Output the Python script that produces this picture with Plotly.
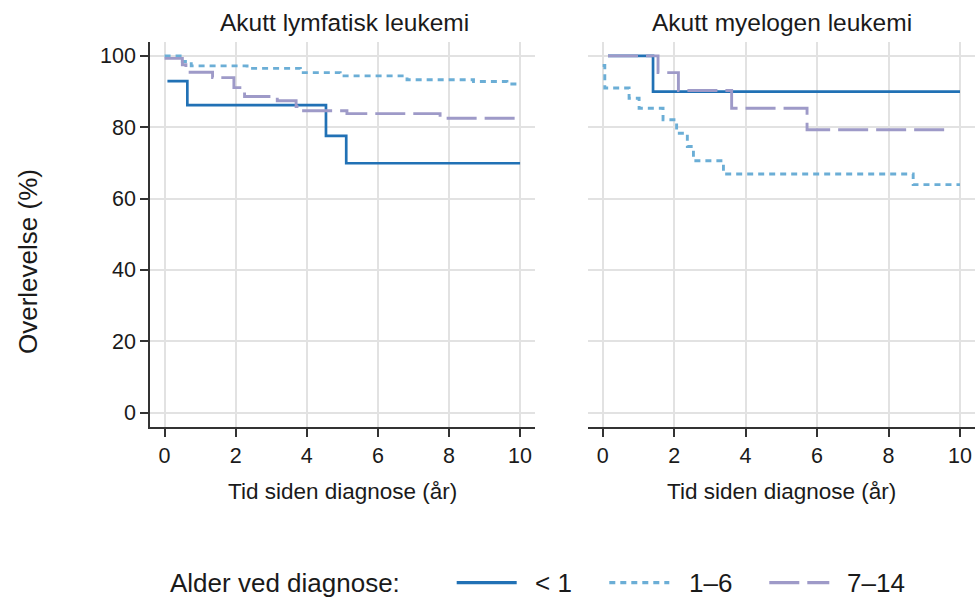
import plotly.graph_objects as go

# Kaplan–Meier step curves (time in years, survival in %)
panel_titles = ["Akutt lymfatisk leukemi", "Akutt myelogen leukemi"]
group_labels = ["< 1", "1–6", "7–14"]
legend_title = "Alder ved diagnose:"
x_title = "Tid siden diagnose (år)"
y_title = "Overlevelse (%)"

x_ticks = [0, 2, 4, 6, 8, 10]
y_ticks = [0, 20, 40, 60, 80, 100]

# Akutt lymfatisk leukemi
all_lt1_t = [0.08, 0.64, 4.54, 5.11, 10]
all_lt1_s = [92.9, 86.2, 77.6, 69.9, 69.9]

all_1_6_t = [0, 0.5, 0.75, 2.32, 3.82, 4.94, 6.82, 8.69, 9.63, 10]
all_1_6_s = [100, 98.4, 97.2, 96.5, 95.3, 94.4, 93.3, 92.8, 92.1, 92.1]

all_7_14_t = [0, 0.5, 0.6, 1.35, 1.95, 2.25, 3.17, 3.7, 3.85, 5.13, 7.75, 10]
all_7_14_s = [99.3, 97.5, 95.4, 93.9, 91.1, 88.6, 87.4, 85.8, 84.6, 83.8, 82.5, 82.5]

# Akutt myelogen leukemi
aml_lt1_t = [0.15, 1.41, 10]
aml_lt1_s = [100, 90.0, 90.0]

aml_1_6_t = [0, 0.06, 0.74, 1.02, 1.69, 2.07, 2.37, 2.54, 3.38, 8.69, 10]
aml_1_6_s = [97.3, 91.0, 88.1, 85.3, 82.1, 78.3, 74.6, 70.6, 66.9, 63.9, 63.9]

aml_7_14_t = [0.15, 1.55, 2.12, 3.61, 5.72, 9.56]
aml_7_14_s = [100, 95.3, 90.3, 85.3, 79.3, 79.3]

colors = ["#2171b5", "#6baed6", "#9e9ac8"]
dashes = ["solid", "6px,5px", "30px,8px"]
widths = [2.7, 2.9, 2.9]

W, H = 975, 599
FONT = "Liberation Sans, Arial, sans-serif"


def px(x):
    return x / W


def py(y):
    return 1 - y / H


panels = [
    [(all_lt1_t, all_lt1_s), (all_1_6_t, all_1_6_s), (all_7_14_t, all_7_14_s)],
    [(aml_lt1_t, aml_lt1_s), (aml_1_6_t, aml_1_6_s), (aml_7_14_t, aml_7_14_s)],
]

fig = go.Figure()
for p, curves in enumerate(panels):
    xa = "x" if p == 0 else "x2"
    ya = "y" if p == 0 else "y2"
    for g, (t, s) in enumerate(curves):
        fig.add_trace(go.Scatter(
            x=t, y=s, mode="lines", name=group_labels[g],
            line=dict(shape="hv", color=colors[g], dash=dashes[g], width=widths[g]),
            xaxis=xa, yaxis=ya, showlegend=False, hoverinfo="x+y+name",
        ))

axis_common = dict(
    showgrid=True, gridcolor="#e2e2e2", gridwidth=2, zeroline=False,
    tickfont=dict(family=FONT, size=21.5, color="#1a1a1a"),
)
y_dom = [py(427.3), py(42.3)]
x_range = [-0.41, 10.42]
y_range = [-4.1, 103.8]

fig.update_layout(
    width=W, height=H, margin=dict(l=0, r=0, t=0, b=0),
    paper_bgcolor="white", plot_bgcolor="white",
    showlegend=False,
    xaxis=dict(domain=[px(150), px(535)], range=x_range, tickvals=x_ticks,
               showline=True, linecolor="#333333", linewidth=1.6,
               ticks="outside", ticklen=8, tickwidth=1.6, tickcolor="#333333",
               anchor="y", **axis_common),
    yaxis=dict(domain=y_dom, range=y_range, tickvals=y_ticks,
               showline=True, linecolor="#333333", linewidth=1.6,
               ticks="outside", ticklen=8, tickwidth=1.6, tickcolor="#333333",
               anchor="x", **axis_common),
    xaxis2=dict(domain=[px(588), px(975)], range=x_range, tickvals=x_ticks,
                showline=True, linecolor="#333333", linewidth=1.6,
                ticks="outside", ticklen=8, tickwidth=1.6, tickcolor="#333333",
                anchor="y2", **axis_common),
    yaxis2=dict(domain=y_dom, range=y_range, tickvals=y_ticks,
                showline=False, ticks="", showticklabels=False,
                anchor="x2", **axis_common),
)

annotations = []
# panel titles
for cx, title in zip([344.8, 781.5], panel_titles):
    annotations.append(dict(x=px(cx), y=py(23), xref="paper", yref="paper",
                            text=title, showarrow=False, xanchor="center", yanchor="middle",
                            font=dict(family=FONT, size=24.5, color="#1a1a1a")))
# x-axis titles
for cx in [342.5, 781.5]:
    annotations.append(dict(x=px(cx), y=py(491), xref="paper", yref="paper",
                            text=x_title, showarrow=False, xanchor="center", yanchor="middle",
                            font=dict(family=FONT, size=22.5, color="#1a1a1a")))
# y-axis title
annotations.append(dict(x=px(28), y=py(262), xref="paper", yref="paper",
                        text=y_title, showarrow=False, textangle=-90,
                        xanchor="center", yanchor="middle",
                        font=dict(family=FONT, size=26, color="#1a1a1a")))

# legend row along the bottom
leg_y = 582.7
annotations.append(dict(x=px(168), y=py(leg_y), xref="paper", yref="paper",
                        text=legend_title, showarrow=False, xanchor="left", yanchor="middle",
                        font=dict(family=FONT, size=26, color="#1a1a1a")))
shapes = []
key_x = [456.7, 609.3, 769.3]
label_x = [533, 686.7, 845]
for g in range(3):
    shapes.append(dict(type="line", xref="paper", yref="paper",
                       x0=px(key_x[g]), x1=px(key_x[g] + 60), y0=py(leg_y), y1=py(leg_y),
                       line=dict(color=colors[g], dash=dashes[g], width=3.3)))
    annotations.append(dict(x=px(label_x[g]), y=py(leg_y), xref="paper", yref="paper",
                            text=group_labels[g], showarrow=False, xanchor="left", yanchor="middle",
                            font=dict(family=FONT, size=26, color="#1a1a1a")))

fig.update_layout(annotations=annotations, shapes=shapes)

fig.write_html("out.html")
